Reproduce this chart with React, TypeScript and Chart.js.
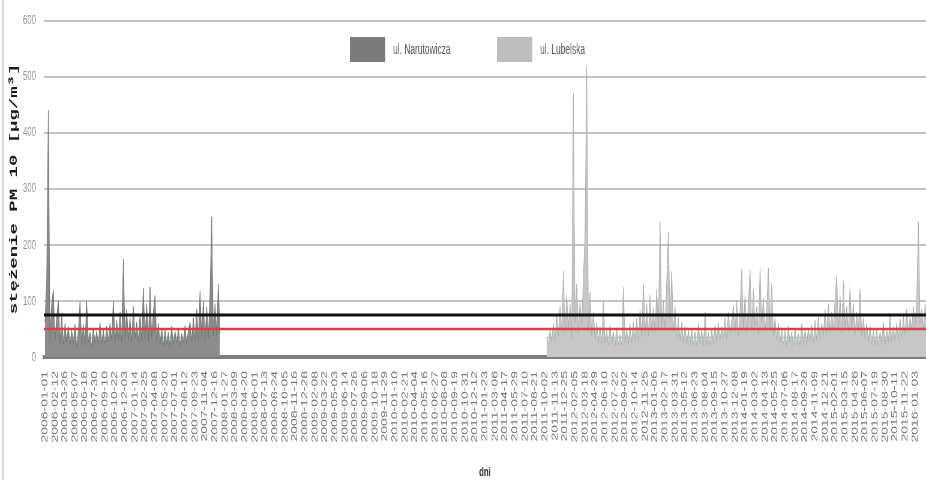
import React, { useEffect, useRef } from "react";
import { Chart, registerables } from "chart.js";

Chart.register(...registerables);

// Weekly PM10 concentrations (µg/m³) at two monitoring stations
const SERIES_NAMES = ["ul. Narutowicza", "ul. Lubelska"];
const NARUTOWICZA_START = "2006-01-01";
const LUBELSKA_START = "2011-10-09";
const STEP_DAYS = 7;

const NARUTOWICZA = [
  62, 135, 440, 28, 95, 120, 30, 70, 100, 25,
  78, 22, 60, 26, 55, 20, 48, 24, 58, 18,
  45, 100, 22, 58, 20, 100, 26, 44, 18, 52,
  24, 46, 20, 62, 25, 48, 22, 55, 28, 60,
  30, 100, 26, 66, 32, 80, 28, 175, 35, 85,
  30, 70, 26, 90, 34, 62, 28, 75, 30, 123,
  32, 95, 28, 125, 36, 80, 110, 26, 60, 22,
  52, 20, 48, 24, 44, 18, 55, 22, 46, 25,
  50, 20, 42, 26, 56, 22, 48, 62, 28, 70,
  30, 85, 32, 117, 36, 100, 30, 90, 34, 110,
  250, 38, 95, 40, 130, 42,
];

const LUBELSKA = [
  35, 22, 48, 28, 60, 30, 75, 38, 90, 45,
  153, 40, 110, 52, 95, 35, 470, 60, 130, 42,
  100, 55, 140, 220, 518, 48, 115, 38, 80, 30,
  62, 25, 55, 22, 100, 26, 48, 20, 58, 24,
  45, 18, 52, 22, 40, 20, 125, 24, 50, 22,
  58, 26, 62, 30, 70, 28, 85, 35, 130, 40,
  95, 38, 110, 45, 88, 42, 120, 50, 241, 55,
  100, 48, 135, 223, 60, 153, 45, 90, 35, 70,
  30, 62, 26, 55, 24, 48, 20, 52, 22, 45,
  20, 60, 24, 48, 18, 80, 22, 44, 20, 50,
  25, 58, 28, 62, 30, 55, 35, 70, 32, 80,
  40, 65, 91, 45, 100, 38, 85, 156, 50, 110,
  42, 95, 155, 48, 120, 55, 90, 40, 158, 60,
  105, 45, 85, 158, 50, 130, 38, 70, 30, 60,
  26, 52, 22, 48, 20, 55, 24, 45, 18, 50,
  22, 42, 20, 60, 25, 48, 22, 52, 28, 58,
  26, 65, 30, 72, 34, 60, 38, 85, 40, 95,
  45, 80, 50, 100, 144, 48, 110, 42, 135, 55,
  90, 45, 125, 50, 95, 40, 80, 48, 120, 38,
  70, 32, 60, 28, 55, 24, 48, 22, 52, 20,
  45, 24, 62, 22, 50, 26, 75, 28, 55, 30,
  60, 32, 68, 36, 72, 40, 85, 45, 70, 50,
  90, 55, 100, 241, 60, 85, 48, 95, 52,
];

// Reference levels (µg/m³)
const LEVEL_BLACK = 75;
const LEVEL_RED = 50;
const LEVEL_TEAL = 35;

const TICK_LABELS = [
  "2006-01-01", "2006-02-12", "2006-03-26", "2006-05-07", "2006-06-18", "2006-07-30",
  "2006-09-10", "2006-10-22", "2006-12-03", "2007-01-14", "2007-02-25", "2007-04-08",
  "2007-05-20", "2007-07-01", "2007-08-12", "2007-09-23", "2007-11-04", "2007-12-16",
  "2008-01-27", "2008-03-09", "2008-04-20", "2008-06-01", "2008-07-13", "2008-08-24",
  "2008-10-05", "2008-11-16", "2008-12-28", "2009-02-08", "2009-03-22", "2009-05-03",
  "2009-06-14", "2009-07-26", "2009-09-06", "2009-10-18", "2009-11-29", "2010-01-10",
  "2010-02-21", "2010-04-04", "2010-05-16", "2010-06-27", "2010-08-08", "2010-09-19",
  "2010-10-31", "2010-12-12", "2011-01-23", "2011-03-06", "2011-04-17", "2011-05-29",
  "2011-07-10", "2011-08-21", "2011-10-02", "2011-11-13", "2011-12-25", "2012-02-05",
  "2012-03-18", "2012-04-29", "2012-06-10", "2012-07-22", "2012-09-02", "2012-10-14",
  "2012-11-25", "2013-01-06", "2013-02-17", "2013-03-31", "2013-05-12", "2013-06-23",
  "2013-08-04", "2013-09-15", "2013-10-27", "2013-12-08", "2014-01-19", "2014-03-02",
  "2014-04-13", "2014-05-25", "2014-07-06", "2014-08-17", "2014-09-28", "2014-11-09",
  "2014-12-21", "2015-02-01", "2015-03-15", "2015-04-26", "2015-06-07", "2015-07-19",
  "2015-08-30", "2015-10-11", "2015-11-22", "2016-01-03",
];

const Y_MAX = 600;
const Y_STEP = 100;
const Y_TITLE = "stężenie PM 10 [µg/m³]";
const X_TITLE = "dni";

// Canvas is rendered wide and shown condensed horizontally
const RENDER_W = 1543;
const RENDER_H = 480;
const SHOW_W = 926;

const EPOCH = Date.UTC(2006, 0, 1);
const dayOf = (s: string) => {
  const [y, m, d] = s.split("-").map(Number);
  return Math.round((Date.UTC(y, m - 1, d) - EPOCH) / 86400000);
};
const X_MIN = -5;
const X_MAX = 3700;

const toPoints = (start: string, values: number[]) => {
  const d0 = dayOf(start);
  return values.map((v, i) => ({ x: d0 + STEP_DAYS * i, y: v }));
};
const levelLine = (v: number) => [
  { x: X_MIN, y: v },
  { x: X_MAX, y: v },
];
// level drawn only under each station's measurement period
const seriesLevel = (v: number) => {
  const a0 = dayOf(NARUTOWICZA_START);
  const a1 = a0 + STEP_DAYS * (NARUTOWICZA.length - 1);
  const b0 = dayOf(LUBELSKA_START);
  const b1 = b0 + STEP_DAYS * (LUBELSKA.length - 1);
  return [
    { x: a0, y: v },
    { x: a1, y: v },
    { x: a1 + 1, y: null },
    { x: b0, y: v },
    { x: b1, y: v },
  ];
};

const FONT = "'Liberation Sans', Arial, sans-serif";

const decorPlugin = {
  id: "decor",
  afterDraw(chart: any) {
    const ctx = chart.ctx as CanvasRenderingContext2D;
    ctx.save();
    ctx.strokeStyle = "#d2d2d2";
    ctx.lineWidth = 3;
    ctx.beginPath();
    ctx.moveTo(5, 0);
    ctx.lineTo(5, chart.height);
    ctx.stroke();

    const items = [
      { box: 583, text: 655, color: "#7b7b7b", label: SERIES_NAMES[0] },
      { box: 828, text: 900, color: "#bdbdbd", label: SERIES_NAMES[1] },
    ];
    ctx.font = `14px ${FONT}`;
    ctx.textBaseline = "middle";
    ctx.textAlign = "left";
    for (const it of items) {
      ctx.fillStyle = it.color;
      ctx.fillRect(it.box, 37, 59, 25);
      ctx.fillStyle = "#555";
      ctx.fillText(it.label, it.text, 50);
    }
    ctx.restore();
  },
};

export default function App() {
  const ref = useRef<HTMLCanvasElement | null>(null);

  useEffect(() => {
    document.body.style.margin = "0";
    if (!ref.current) return;
    Chart.defaults.font.family = FONT;
    const chart = new Chart(ref.current, {
      type: "line",
      data: {
        datasets: [
          {
            data: levelLine(LEVEL_BLACK),
            borderColor: "#111111",
            borderWidth: 3,
            pointRadius: 0,
            fill: false,
          },
          {
            data: levelLine(LEVEL_RED),
            borderColor: "#d8404e",
            borderWidth: 2.5,
            pointRadius: 0,
            fill: false,
          },
          {
            label: SERIES_NAMES[0],
            data: toPoints(NARUTOWICZA_START, NARUTOWICZA),
            borderColor: "#707070",
            backgroundColor: "#8c8c8c",
            borderWidth: 1,
            pointRadius: 0,
            tension: 0,
            fill: "origin",
          },
          {
            label: SERIES_NAMES[1],
            data: toPoints(LUBELSKA_START, LUBELSKA),
            borderColor: "#acacac",
            backgroundColor: "#c7c7c7",
            borderWidth: 1,
            pointRadius: 0,
            tension: 0,
            fill: "origin",
          },
          {
            data: seriesLevel(LEVEL_TEAL),
            borderColor: "#94d8d0",
            borderWidth: 1.5,
            pointRadius: 0,
            spanGaps: false,
            fill: false,
          },
        ],
      },
      options: {
        responsive: false,
        animation: false,
        devicePixelRatio: 1,
        layout: { padding: { left: 8, top: 19, right: 0, bottom: 0 } },
        plugins: {
          legend: { display: false },
          tooltip: { enabled: false },
        },
        scales: {
          x: {
            type: "linear",
            min: X_MIN,
            max: X_MAX,
            afterBuildTicks: (scale: any) => {
              scale.ticks = TICK_LABELS.map((s) => ({ value: dayOf(s) }));
            },
            afterFit: (scale: any) => {
              scale.height = 123;
              scale.paddingLeft = 0;
              scale.paddingRight = 0;
            },
            grid: { display: false, drawTicks: false },
            border: { display: true, color: "#7d7d7d", width: 4 },
            ticks: {
              autoSkip: false,
              minRotation: 90,
              maxRotation: 90,
              padding: 14,
              color: "#777777",
              font: { size: 14 },
              callback: (_v: any, i: number) => TICK_LABELS[i],
            },
            title: {
              display: true,
              text: X_TITLE,
              color: "#333333",
              font: { size: 13, weight: "bold" },
              padding: { top: 0, bottom: 0 },
            },
          },
          y: {
            min: 0,
            max: Y_MAX,
            afterFit: (scale: any) => {
              scale.width = 65;
            },
            grid: { color: "#c4c4c4", lineWidth: 2, drawTicks: false },
            border: { display: false },
            ticks: {
              stepSize: Y_STEP,
              padding: 13,
              color: "#8f8f8f",
              font: { size: 13 },
            },
            title: {
              display: true,
              text: Y_TITLE,
              color: "#1a1a1a",
              font: {
                size: 19,
                weight: "bold",
                family: "'Liberation Mono', 'DejaVu Sans Mono', monospace",
              },
              padding: { top: 4, bottom: 0 },
            },
          },
        },
      },
      plugins: [decorPlugin],
    } as any);
    return () => chart.destroy();
  }, []);

  return (
    <canvas
      ref={ref}
      width={RENDER_W}
      height={RENDER_H}
      style={{ display: "block", width: `${SHOW_W}px`, height: `${RENDER_H}px` }}
    />
  );
}
